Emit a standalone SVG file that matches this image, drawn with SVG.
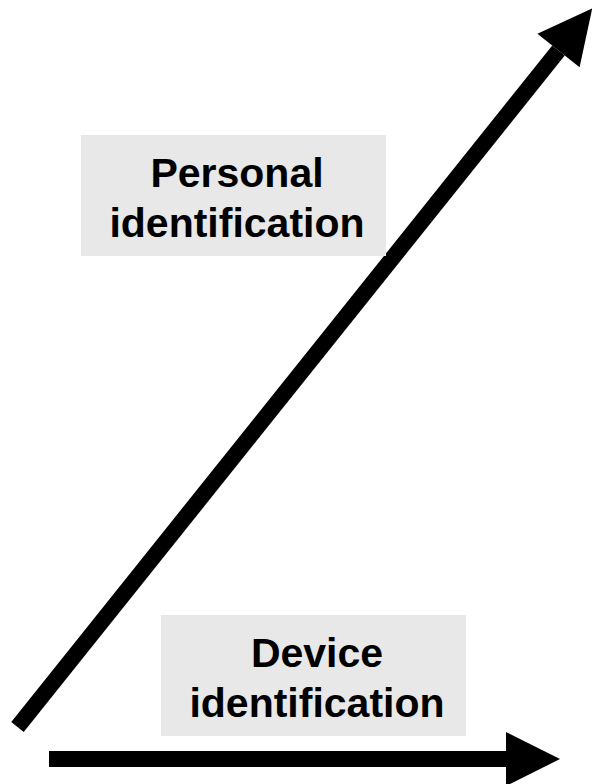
<svg xmlns="http://www.w3.org/2000/svg" width="592" height="784" viewBox="0 0 592 784">
  <style>
    .box { fill: #e8e8e8; }
    .lbl { font-family: "Liberation Sans", Arial, sans-serif; font-weight: bold; font-size: 41px; fill: #000; text-anchor: middle; }
    .arrow { stroke: #000; stroke-width: 16; fill: none; stroke-linecap: butt; marker-end: url(#head); }
  </style>
  <defs>
    <marker id="head" viewBox="0 0 54 54" markerWidth="54" markerHeight="54" refX="0" refY="27" orient="auto" markerUnits="userSpaceOnUse" overflow="visible">
      <path d="M0,0 L54,27 L0,54 Z" fill="#000"/>
    </marker>
  </defs>
  <rect width="592" height="784" fill="#fff"/>
  <g id="connectors">
    <line class="arrow" x1="17.5" y1="727" x2="558.5" y2="50.5"/>
    <line class="arrow" x1="49" y1="759" x2="506" y2="759"/>
  </g>
  <g id="personal">
    <rect class="box" x="81" y="135" width="305" height="121"/>
    <text class="lbl" x="237" y="187">Personal</text>
    <text class="lbl" x="237" y="237">identification</text>
  </g>
  <g id="device">
    <rect class="box" x="161" y="615" width="305" height="121"/>
    <text class="lbl" x="317" y="667">Device</text>
    <text class="lbl" x="317" y="717">identification</text>
  </g>
</svg>
